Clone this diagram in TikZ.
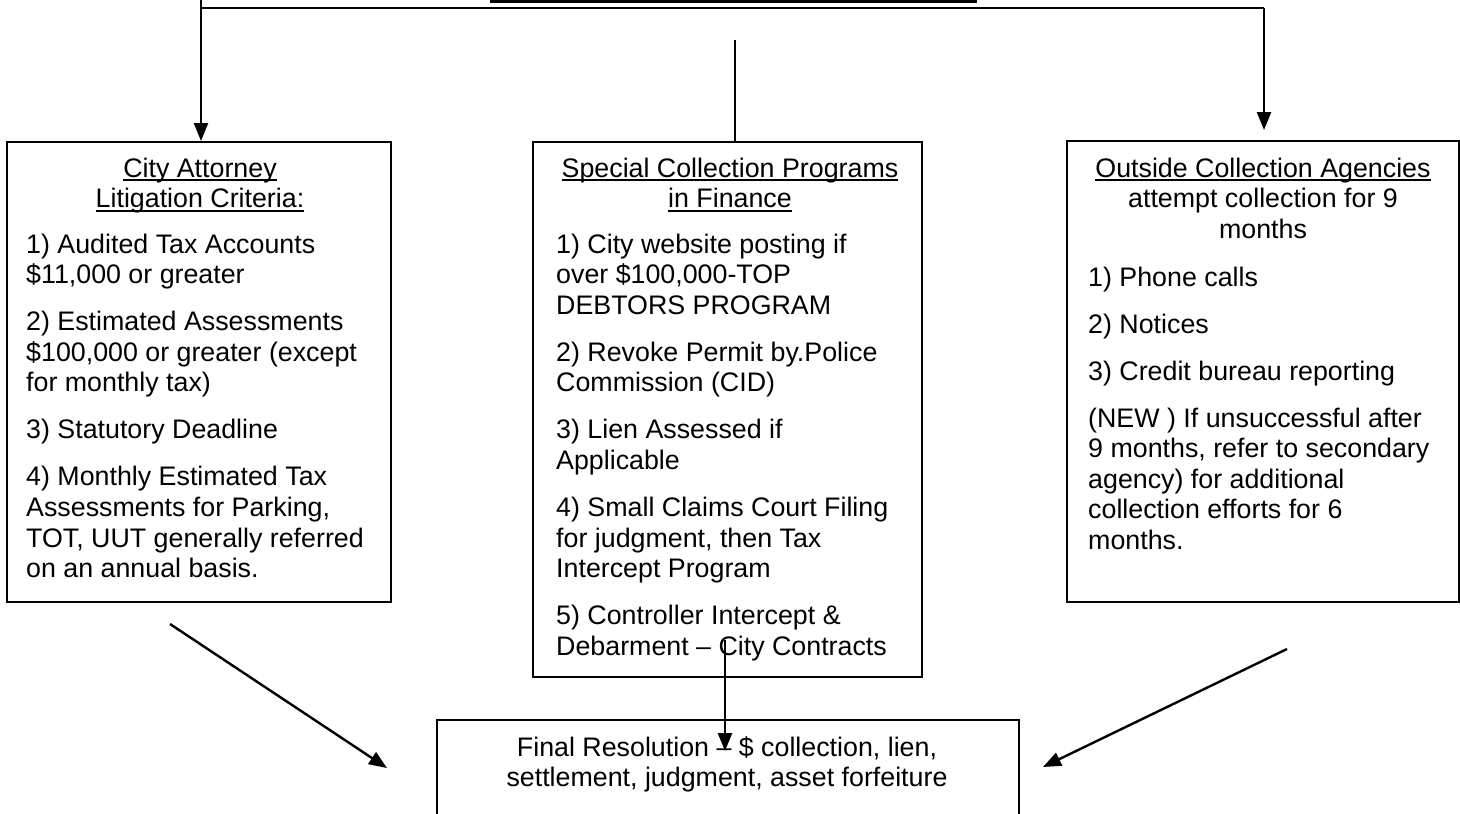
\documentclass[tikz,border=0pt]{standalone}
\usepackage{fontspec}
\setmainfont{Liberation Sans}
\usetikzlibrary{arrows.meta,calc}
\newcommand\myul[1]{\leavevmode\setbox0\hbox{#1}\rlap{\rule[-4pt]{\wd0}{1.8pt}}\box0}
\newcommand\pg{\par\vspace{16.4pt}}
\newcommand\blk[2]{\begin{minipage}[t]{#1}#2\end{minipage}}
\begin{document}
\begin{tikzpicture}[x=1pt,y=-1pt,
  box/.style={draw,line width=2.4pt,inner sep=0pt,anchor=north west},
  txt/.style={inner sep=0pt,font=\fontsize{26.8pt}{30.6pt}\selectfont},
  ln/.style={line width=2.4pt},
  arr/.style={line width=2.4pt,-{Triangle[length=18pt,width=14pt]}}]
\useasboundingbox (0,0) rectangle (1460,814);
\clip (0,0) rectangle (1460,814);

% fragment of the box above
\draw[line width=3.5pt] (490,1.5) -- (977,1.5);

% boxes
\node[box,minimum width=384pt,minimum height=460pt] (ca) at (6,141) {};
\node[box,minimum width=389pt,minimum height=535pt] (sc) at (532,141) {};
\node[box,minimum width=392pt,minimum height=461pt] (oc) at (1066,140) {};
\node[box,minimum width=582pt,minimum height=130pt] (fr) at (436,719) {};

% left box text
\node[txt,anchor=base] (caT) at (200,177) {\blk{360pt}{\centering\myul{City Attorney}\\\myul{Litigation Criteria:}}};
\node[txt,anchor=base west] (caB) at (26,253) {\blk{360pt}{\raggedright
1) Audited Tax Accounts\\\$11,000 or greater\pg
2) Estimated Assessments\\\$100,000 or greater (except\\for monthly tax)\pg
3) Statutory Deadline\pg
4) Monthly Estimated Tax\\Assessments for Parking,\\TOT, UUT generally referred\\on an annual basis.}};

% middle box text
\node[txt,anchor=base] (scT) at (730,177) {\blk{380pt}{\centering\myul{Special Collection Programs}\\\myul{in Finance}}};
\node[txt,anchor=base west] (scB) at (556,253) {\blk{360pt}{\raggedright
1) City website posting if\\over \$100,000-TOP\\DEBTORS PROGRAM\pg
2) Revoke Permit by.Police\\Commission (CID)\pg
3) Lien Assessed if\\Applicable\pg
4) Small Claims Court Filing\\for judgment, then Tax\\Intercept Program\pg
5) Controller Intercept \&\\Debarment -- City Contracts}};

% right box text
\node[txt,anchor=base] (ocT) at (1263,177) {\blk{380pt}{\centering\myul{Outside Collection Agencies}\\attempt collection for 9\\months}};
\node[txt,anchor=base west] (ocB) at (1088,286) {\blk{360pt}{\raggedright
1) Phone calls\pg
2) Notices\pg
3) Credit bureau reporting\pg
(NEW ) If unsuccessful after\\9 months, refer to secondary\\agency) for additional\\collection efforts for 6\\months.}};

% bottom box text
\node[txt,anchor=base] (frT) at (727,756) {\blk{560pt}{\centering Final Resolution -- \$ collection, lien,\\settlement, judgment, asset forfeiture}};

% connectors
\coordinate (topL) at (201,0);
\coordinate (jL) at (201,8);
\coordinate (jR) at (1264,8);
\coordinate (tipR) at (1264,130);
\draw[ln] (topL) -- (jL) -- (jR);
\draw[arr] (jL) -- (jL |- ca.north);
\draw[arr] (jR) -- (tipR);
\coordinate (cT) at (735,40);
\draw[ln] (cT) -- (cT |- sc.north);

\coordinate (mS) at (725,640);
\coordinate (mE) at (725,751);
\draw[arr] (mS) -- (mE);
\coordinate (lS) at (170,624);
\coordinate (lE) at (387,768);
\draw[arr] (lS) -- (lE);
\coordinate (rS) at (1287,649);
\coordinate (rE) at (1043,767);
\draw[arr] (rS) -- (rE);
\end{tikzpicture}
\end{document}
